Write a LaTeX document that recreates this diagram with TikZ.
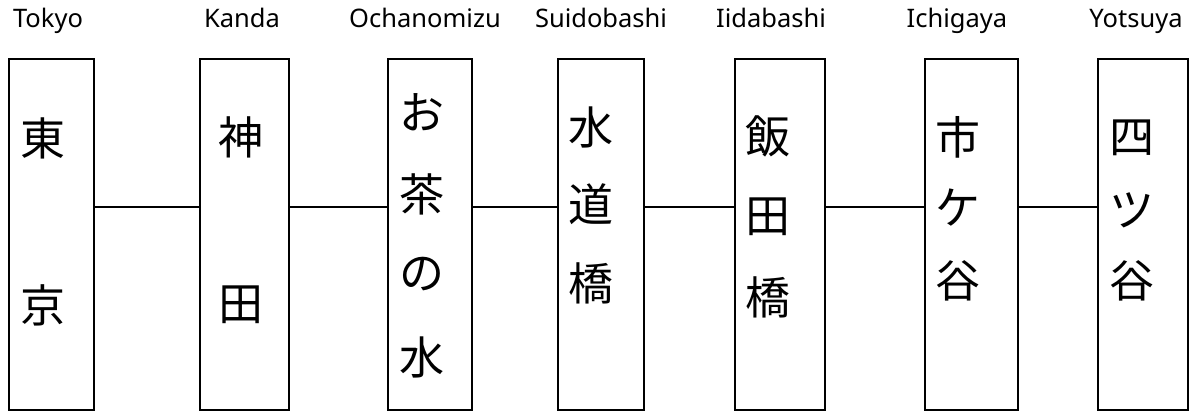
\documentclass[tikz,border=0pt]{standalone}
\usepackage{fontspec}
\setmainfont{Noto Sans}
\newfontfamily\jpfont{Noto Sans CJK JP}
\begin{document}
\begin{tikzpicture}[x=1pt,y=-1pt,
  stn/.style={draw, line width=1.6pt, minimum height=351pt, inner sep=0pt, anchor=north west},
  ch/.style={font=\jpfont\fontsize{45}{45}\selectfont, inner sep=0pt, anchor=center},
  lab/.style={font=\fontsize{25.5}{25.5}\selectfont, inner sep=0pt, anchor=base},
  link/.style={line width=1.6pt}]
\useasboundingbox (0,0) rectangle (1192,411);
\coordinate (lv) at (0,207);
% boxes
\node[stn, minimum width=85pt] (b1) at (8,58) {};
\node[stn, minimum width=89pt] (b2) at (199,58) {};
\node[stn, minimum width=84pt] (b3) at (387,58) {};
\node[stn, minimum width=86pt] (b4) at (557,58) {};
\node[stn, minimum width=90pt] (b5) at (734,58) {};
\node[stn, minimum width=93pt] (b6) at (924,58) {};
\node[stn, minimum width=90pt] (b7) at (1097,58) {};
% labels
\node[lab] (l1) at (48,28) {Tokyo};
\node[lab] (l2) at (242,28) {Kanda};
\node[lab] (l3) at (425,28) {Ochanomizu};
\node[lab] (l4) at (601,28) {Suidobashi};
\node[lab] (l5) at (771,28) {Iidabashi};
\node[lab] (l6) at (957,28) {Ichigaya};
\node[lab] (l7) at (1136,28) {Yotsuya};
% characters
\node[ch] (c11) at (43,138) {東};
\node[ch] (c12) at (43,305) {京};
\node[ch] (c21) at (241,137) {神};
\node[ch] (c22) at (241,305) {田};
\node[ch] (c31) at (422,112) {お};
\node[ch] (c32) at (422,194) {茶};
\node[ch] (c33) at (422,274) {の};
\node[ch] (c34) at (422,357) {水};
\node[ch] (c41) at (591,127) {水};
\node[ch] (c42) at (591,204) {道};
\node[ch] (c43) at (591,283) {橋};
\node[ch] (c51) at (768,136) {飯};
\node[ch] (c52) at (768,217) {田};
\node[ch] (c53) at (768,297) {橋};
\node[ch] (c61) at (958,137) {市};
\node[ch] (c62) at (958,208) {ケ};
\node[ch] (c63) at (958,281) {谷};
\node[ch] (c71) at (1132,138) {四};
\node[ch] (c72) at (1132,210) {ツ};
\node[ch] (c73) at (1132,281) {谷};
% connectors
\draw[link] (b1.east |- lv) -- (b2.west |- lv);
\draw[link] (b2.east |- lv) -- (b3.west |- lv);
\draw[link] (b3.east |- lv) -- (b4.west |- lv);
\draw[link] (b4.east |- lv) -- (b5.west |- lv);
\draw[link] (b5.east |- lv) -- (b6.west |- lv);
\draw[link] (b6.east |- lv) -- (b7.west |- lv);
\end{tikzpicture}
\end{document}
